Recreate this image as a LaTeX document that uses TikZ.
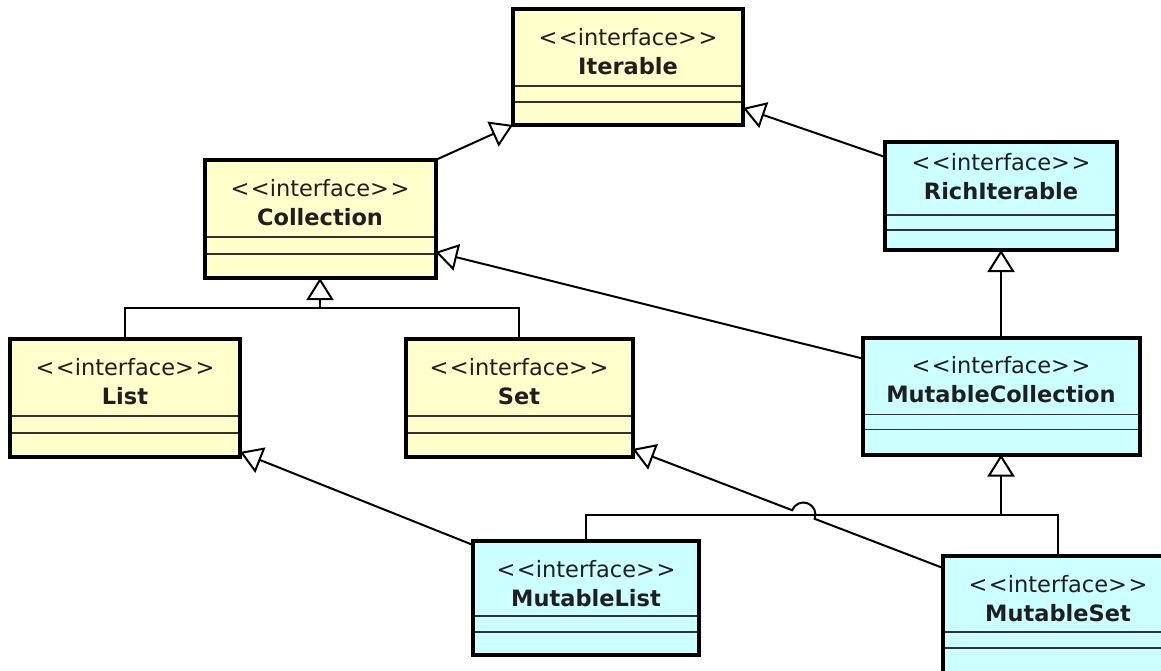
\documentclass[tikz,border=0pt]{standalone}
\usepackage{fontspec}
\setmainfont{DejaVu Sans}
\usepackage{xcolor}
\usepackage{tikz}
\usetikzlibrary{arrows.meta}
\usetikzlibrary{calc}
\usetikzlibrary{intersections}
\usetikzlibrary{positioning}

\definecolor{ifaceyellow}{RGB}{255,255,204}
\definecolor{ifacecyan}{RGB}{204,255,255}
\definecolor{sepgray}{RGB}{50,50,50}

\newcommand{\stereo}{<\kern1.5pt<interface>\kern1.5pt>}

\tikzset{
  classbox/.style={draw=black, line width=4pt, inner sep=0pt, outer sep=0pt,
    minimum width=230pt, minimum height=116pt},
  yellowbox/.style={classbox, fill=ifaceyellow},
  cyanbox/.style={classbox, fill=ifacecyan},
  ifacename/.style 2 args={label={[anchor=north, yshift=-#2, align=center, inner sep=0pt,
    text=black!88, font=\fontsize{22.5}{29}\selectfont]north:{\stereo\\\textbf{#1}}}},
  sepline/.style={draw=sepgray, line width=1.5pt},
  link/.style={draw=black, line width=2pt},
  inherit/.style={link, -{Triangle[length=22pt, width=27pt, fill=white]}}
}

\begin{document}
\begin{tikzpicture}[x=1pt, y=-1pt]
  \useasboundingbox (0,0) rectangle (1161,671);
  \clip (0,0) rectangle (1161,671);

  % base interfaces
  \node[yellowbox, ifacename={Iterable}{19pt}] (iter) at (628,67) {};
  \node[yellowbox, ifacename={Collection}{19pt}, minimum width=231pt, minimum height=118pt] (coll) at (320,219) {};
  \node[yellowbox, ifacename={List}{19pt}, minimum height=118pt] (list) at (125,398) {};
  \node[yellowbox, ifacename={Set}{19pt}, minimum width=227pt, minimum height=118pt] (set) at (519,398) {};

  % mutable interfaces
  \node[cyanbox, ifacename={RichIterable}{11pt}, minimum width=232pt, minimum height=108pt] (rich) at (1001,196) {};
  \node[cyanbox, ifacename={MutableCollection}{19pt}, minimum width=277pt, minimum height=117pt] (mcoll) at (1001,396) {};
  \node[cyanbox, ifacename={MutableList}{19pt}, minimum width=226pt, minimum height=114pt] (mlist) at (586,598) {};
  \node[cyanbox, ifacename={MutableSet}{19pt}, minimum height=118pt] (mset) at (1058,615) {};

  % empty compartments
  \foreach \n/\a/\b in {iter/39/23,coll/41/24,list/41/24,set/41/24,rich/35/20,mcoll/40/25,mlist/39/23,mset/42/26}
    \draw[sepline] ([xshift=2pt,yshift=\a pt]\n.south west) -- ([xshift=-2pt,yshift=\a pt]\n.south east)
                   ([xshift=2pt,yshift=\b pt]\n.south west) -- ([xshift=-2pt,yshift=\b pt]\n.south east);

  \coordinate (cjoin) at ([yshift=-30pt]coll.south);
  \coordinate (mjoin) at ([yshift=-60pt]mcoll.south);

  \draw[inherit] (coll.north east) -- (iter.south west);
  \draw[inherit] ([yshift=-15pt]rich.north west) -- ([yshift=17pt]iter.south east);
  \draw[inherit] ([yshift=-21pt]mcoll.north west) -- ([yshift=26pt]coll.south east);
  \draw[inherit] (mcoll.north) -- (rich.south);
  \draw[link] (list.north) |- (cjoin) -| (set.north);
  \draw[inherit] (cjoin) -- (coll.south);
  \draw[link] (mlist.north) |- (mjoin) -| (mset.north);
  \draw[inherit] (mjoin) -- (mcoll.south);
  \draw[inherit] ([yshift=-4pt]mlist.north west) -- ([yshift=5pt]list.south east);

  % MutableSet to Set, hopping over the bar
  \path[name path=setlink] ([yshift=-12pt]mset.north west) -- ([yshift=8pt]set.south east);
  \path[name path=mbar] (mlist.north |- mjoin) -- (mset.north |- mjoin);
  \draw[inherit, name intersections={of=setlink and mbar, by=hop}]
    let \p1=([yshift=-12pt]mset.north west), \p2=([yshift=8pt]set.south east),
        \n1={atan2(\y2-\y1,\x2-\x1)} in
    (\p1) -- ($(hop)!12pt!(\p1)$) arc[start angle=\n1-180, end angle=\n1, radius=12pt] -- (\p2);
\end{tikzpicture}
\end{document}
